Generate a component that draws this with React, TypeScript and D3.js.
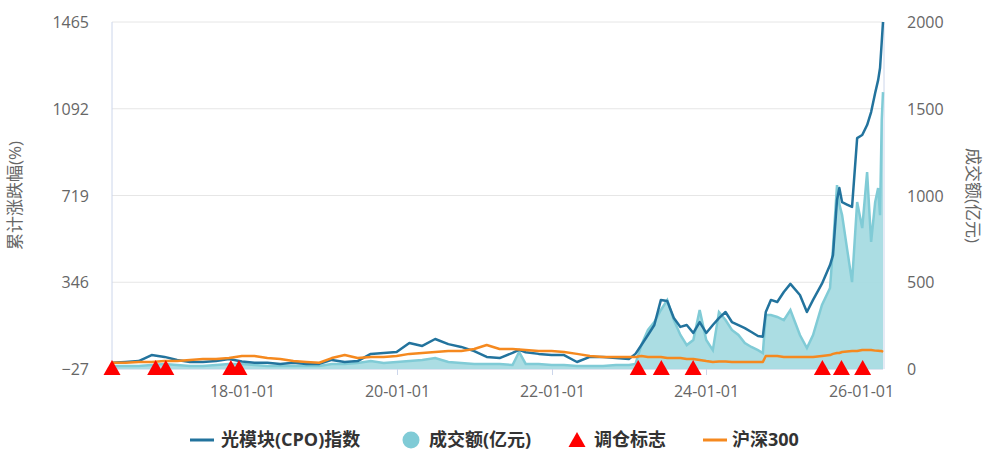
import * as d3 from "d3";

const dates = [
  "2016-04-28", "2016-07-01", "2016-09-01", "2016-11-01", "2017-01-01", "2017-03-01",
  "2017-05-01", "2017-07-01", "2017-09-01", "2017-11-01", "2018-01-01", "2018-03-01",
  "2018-05-01", "2018-07-01", "2018-09-01", "2018-11-01", "2019-01-01", "2019-03-01",
  "2019-05-01", "2019-07-01", "2019-09-01", "2019-11-01", "2020-01-01", "2020-03-01",
  "2020-05-01", "2020-07-01", "2020-09-01", "2020-11-01", "2021-01-01", "2021-03-01",
  "2021-05-01", "2021-07-01", "2021-08-01", "2021-09-01", "2021-11-01", "2022-01-01",
  "2022-03-01", "2022-05-01", "2022-07-01", "2022-09-01", "2022-11-01", "2023-01-01",
  "2023-02-01", "2023-03-01", "2023-04-01", "2023-05-01", "2023-06-01", "2023-07-01",
  "2023-08-01", "2023-09-01", "2023-10-01", "2023-11-01", "2023-12-01", "2024-01-01",
  "2024-02-01", "2024-03-01", "2024-04-01", "2024-05-01", "2024-06-01", "2024-07-01",
  "2024-08-01", "2024-09-01", "2024-09-24", "2024-10-08", "2024-11-01", "2024-12-01",
  "2025-01-01", "2025-02-01", "2025-03-18", "2025-04-20", "2025-05-19", "2025-06-30",
  "2025-08-07", "2025-08-21", "2025-09-09", "2025-09-20", "2025-10-03", "2025-10-26",
  "2025-11-19", "2025-12-13", "2026-01-06", "2026-01-29", "2026-02-17", "2026-03-08",
  "2026-03-22", "2026-03-31", "2026-04-08", "2026-04-14",
];

// 光模块(CPO)指数 累计涨跌幅(%)
const cpo = [
  0, 3, 7, 33, 25, 12, 3, 3, 7, 16, 5, 0,
  0, -5, 0, -5, -5, 12, 3, 7, 38, 42, 46, 85,
  72, 102, 80, 68, 50, 25, 20, 42, 55, 45, 38, 33,
  33, 3, 25, 25, 20, 16, 38, 76, 119, 162, 270, 265,
  192, 154, 162, 128, 175, 128, 162, 192, 218, 175, 162, 149,
  132, 115, 112, 218, 270, 261, 304, 339, 291, 218, 270, 340,
  420, 463, 700, 751, 690, 680, 670, 966, 979, 1022, 1078, 1160,
  1215, 1267, 1379, 1465,
];

// 沪深300 累计涨跌幅(%)
const hs300 = [
  0, 0, 3, 3, 7, 7, 12, 16, 16, 20, 29, 29,
  20, 16, 7, 3, 0, 20, 33, 20, 25, 25, 29, 38,
  42, 46, 50, 50, 59, 76, 59, 59, 57, 55, 50, 50,
  46, 38, 29, 25, 25, 25, 25, 29, 25, 25, 25, 20,
  20, 20, 16, 16, 12, 7, 3, 5, 5, 3, 3, 3,
  3, 3, 3, 29, 29, 29, 25, 25, 25, 25, 25, 29,
  33, 38, 42, 42, 46, 48, 50, 50, 55, 55, 55, 52,
  51, 50, 50, 46,
];

// 成交额(亿元)
const volume = [
  17, 17, 17, 23, 29, 23, 17, 17, 23, 29, 29, 23,
  17, 17, 17, 17, 17, 29, 29, 35, 46, 35, 40, 46,
  52, 63, 40, 35, 29, 29, 29, 23, 98, 29, 29, 23,
  23, 17, 17, 17, 23, 23, 29, 138, 225, 271, 340, 397,
  282, 196, 138, 167, 340, 167, 109, 328, 282, 225, 196, 150,
  127, 109, 92, 311, 311, 300, 282, 340, 196, 121, 196, 369,
  467, 697, 1060, 950, 887, 697, 501, 962, 812, 1135, 732, 962,
  1043, 887, 1434, 1596,
];

// 调仓标志
const rebalanceDates = [
  "2016-04-28", "2016-11-20", "2017-01-07", "2017-11-10", "2017-12-18",
  "2023-02-14", "2023-06-03", "2023-10-31", "2025-07-02", "2025-09-30", "2026-01-08",
];

const leftTicks = [-27, 346, 719, 1092, 1465];
const rightTicks = [0, 500, 1000, 1500, 2000];
const xTickDates = ["2018-01-01", "2020-01-01", "2022-01-01", "2024-01-01", "2026-01-01"];
const xTickLabels = ["18-01-01", "20-01-01", "22-01-01", "24-01-01", "26-01-01"];

const C = {
  cpo: "#22739d",
  hs: "#f5891f",
  volLine: "#80cbd6",
  volFill: "#a7dbe2",
  mark: "#ff0000",
  grid: "#e6e6e6",
  axis: "#ccd6eb",
  text: "#666666",
  legend: "#333333",
};

const W = 984;
const H = 450;
const FONT = "'Open Sans', 'Noto Sans CJK SC', sans-serif";

export default function App() {
  const parse = d3.timeParse("%Y-%m-%d");
  const ds = dates.map((d) => parse(d) as Date);
  const left = 112, right = 883, top = 22, bottom = 369;

  const x = d3.scaleTime().domain([ds[0], ds[ds.length - 1]]).range([left, right]);
  const yL = d3.scaleLinear().domain([-27, 1465]).range([bottom, top]);
  const yR = d3.scaleLinear().domain([0, 2000]).range([bottom, top]);

  const pts = ds.map((d, i) => ({ d, c: cpo[i], h: hs300[i], v: volume[i] }));

  const volArea = d3
    .area<(typeof pts)[0]>()
    .x((p) => x(p.d))
    .y0(yR(0))
    .y1((p) => yR(p.v));
  const volLine = d3
    .line<(typeof pts)[0]>()
    .x((p) => x(p.d))
    .y((p) => yR(p.v));
  const cpoLine = d3
    .line<(typeof pts)[0]>()
    .x((p) => x(p.d))
    .y((p) => yL(p.c));
  const hsLine = d3
    .line<(typeof pts)[0]>()
    .x((p) => x(p.d))
    .y((p) => yL(p.h));

  const tri = (cx: number, cy: number) =>
    `M${cx},${cy - 9}L${cx + 8.5},${cy + 6}L${cx - 8.5},${cy + 6}Z`;

  const midY = (top + bottom) / 2;

  return (
    <svg
      width={W}
      height={H}
      style={{ position: "absolute", left: 0, top: 0, background: "#fff" }}
      fontFamily={FONT}
    >
      {/* grid */}
      {leftTicks.map((t) => (
        <line key={t} x1={left} x2={right} y1={yL(t)} y2={yL(t)} stroke={C.grid} />
      ))}

      {/* axes lines */}
      <line x1={left} x2={left} y1={top} y2={bottom} stroke={C.axis} />
      <line x1={right + 1} x2={right + 1} y1={top} y2={bottom} stroke={C.axis} />
      <line x1={left} x2={right} y1={bottom} y2={bottom} stroke={C.axis} />

      {/* x ticks */}
      {xTickDates.map((t, i) => {
        const px = Math.round(x(parse(t) as Date)) + 0.5;
        return (
          <g key={t}>
            <line x1={px} x2={px} y1={bottom} y2={bottom + 6} stroke={C.axis} />
            <text x={px} y={bottom + 28} textAnchor="middle" fontSize={16} fill={C.text}>
              {xTickLabels[i]}
            </text>
          </g>
        );
      })}

      {/* y ticks */}
      {leftTicks.map((t) => (
        <text key={t} x={89} y={yL(t) + 6} textAnchor="end" fontSize={16} fill={C.text}>
          {t < 0 ? `\u2212${Math.abs(t)}` : t}
        </text>
      ))}
      {rightTicks.map((t) => (
        <text key={t} x={907} y={yR(t) + 6} textAnchor="start" fontSize={16} fill={C.text}>
          {t}
        </text>
      ))}

      {/* axis titles */}
      <text
        transform={`translate(21,${midY}) rotate(-90)`}
        textAnchor="middle"
        fontSize={17}
        fill={C.text}
      >
        累计涨跌幅(%)
      </text>
      <text
        transform={`translate(967,${midY}) rotate(90)`}
        textAnchor="middle"
        fontSize={17}
        fill={C.text}
      >
        成交额(亿元)
      </text>

      {/* volume */}
      <path d={volArea(pts) ?? ""} fill={C.volFill} fillOpacity={0.95} />
      <path d={volLine(pts) ?? ""} fill="none" stroke={C.volLine} strokeWidth={2.5} />

      {/* lines */}
      <path d={cpoLine(pts) ?? ""} fill="none" stroke={C.cpo} strokeWidth={2.5} strokeLinejoin="round" />
      <path d={hsLine(pts) ?? ""} fill="none" stroke={C.hs} strokeWidth={2.5} strokeLinejoin="round" />

      {/* rebalance markers */}
      {rebalanceDates.map((t) => (
        <path key={t} d={tri(x(parse(t) as Date), yL(-27))} fill={C.mark} />
      ))}

      {/* legend */}
      <g fontSize={18} fontWeight="bold" fill={C.legend}>
        <line x1={190} x2={214} y1={440} y2={440} stroke={C.cpo} strokeWidth={3} />
        <text x={221} y={446}>光模块(CPO)指数</text>
        <circle cx={411} cy={440} r={8.5} fill={C.volLine} />
        <text x={429} y={446}>成交额(亿元)</text>
        <path d={tri(577, 441)} fill={C.mark} />
        <text x={594} y={446}>调仓标志</text>
        <line x1={703} x2={727} y1={440} y2={440} stroke={C.hs} strokeWidth={3} />
        <text x={732} y={446}>沪深300</text>
      </g>
    </svg>
  );
}
